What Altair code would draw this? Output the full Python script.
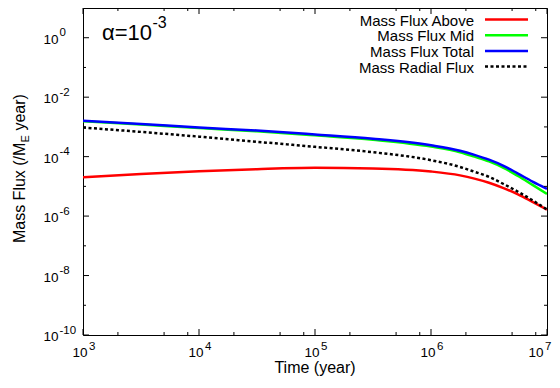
import altair as alt
import pandas as pd

# ---- data ----
time = [1e3, 3.16e3, 1e4, 3.16e4, 1e5, 3.16e5, 1e6, 1.78e6, 2.37e6, 3.16e6, 4.22e6, 5.62e6, 7.5e6, 1e7]
flux_above = [2.04e-5, 2.63e-5, 3.24e-5, 3.8e-5, 4.2e-5, 4.0e-5, 3.16e-5, 2.34e-5, 1.82e-5, 1.32e-5, 8.7e-6, 5.4e-6, 3.0e-6, 1.66e-6]
flux_mid = [1.55e-3, 1.20e-3, 9.1e-4, 7.1e-4, 5.2e-4, 3.7e-4, 2.19e-4, 1.41e-4, 1.0e-4, 6.9e-5, 4.2e-5, 2.24e-5, 1.12e-5, 5.6e-6]
flux_total = [1.62e-3, 1.26e-3, 9.5e-4, 7.6e-4, 5.6e-4, 4.0e-4, 2.4e-4, 1.58e-4, 1.15e-4, 7.9e-5, 4.9e-5, 2.69e-5, 1.45e-5, 8.3e-6]
flux_radial = [9.5e-4, 6.8e-4, 4.7e-4, 3.16e-4, 2.14e-4, 1.41e-4, 7.6e-5, 4.5e-5, 3.1e-5, 2.09e-5, 1.2e-5, 6.6e-6, 3.4e-6, 1.66e-6]

series_names = ["Mass Flux Above", "Mass Flux Mid", "Mass Flux Total", "Mass Radial Flux"]
series_values = [flux_above, flux_mid, flux_total, flux_radial]
series_colors = ["#ff0000", "#00ff00", "#0000ff", "#000000"]

x_major = [1e3, 1e4, 1e5, 1e6, 1e7]
x_major_exp = ["3", "4", "5", "6", "7"]
x_minor = [m * d for d in [1e3, 1e4, 1e5, 1e6] for m in (2, 5, 8)]
y_major = [1e0, 1e-2, 1e-4, 1e-6, 1e-8, 1e-10]
y_major_exp = ["0", "-2", "-4", "-6", "-8", "-10"]
y_minor = [1e1, 1e-1, 1e-3, 1e-5, 1e-7, 1e-9]

x_title = "Time (year)"
y_title_parts = ["Mass Flux (/M", "E", "year)"]
annot_base, annot_exp = "\u03b1=10", "-3"

W, H = 464, 327
FONT = "Liberation Sans"

xs = alt.Scale(type="log", domain=[1e3, 1e7], nice=False)
ys = alt.Scale(type="log", domain=[1e-10, 1e1], nice=False)

layers = []

# ---- curves ----
for name, vals, col in zip(series_names, series_values, series_colors):
    df = pd.DataFrame({"t": time, "v": vals, "s": name})
    kw = dict(color=col, strokeWidth=2.5, interpolate="monotone", clip=True)
    if name == "Mass Radial Flux":
        kw["strokeDash"] = [3, 2.5]
    layers.append(
        alt.Chart(df).mark_line(**kw).encode(
            x=alt.X("t:Q", scale=xs, axis=None),
            y=alt.Y("v:Q", scale=ys, axis=None),
        )
    )

# ---- inward ticks (all four sides) ----
def xticks(vals, length):
    df = pd.DataFrame({"t": vals})
    base = alt.Chart(df).mark_rule(color="black", strokeWidth=1)
    xe = alt.X("t:Q", scale=xs, axis=None)
    return [
        base.encode(x=xe, y=alt.value(H), y2=alt.value(H - length)),
        base.encode(x=xe, y=alt.value(0), y2=alt.value(length)),
    ]

def yticks(vals, length):
    df = pd.DataFrame({"v": vals})
    base = alt.Chart(df).mark_rule(color="black", strokeWidth=1)
    ye = alt.Y("v:Q", scale=ys, axis=None)
    return [
        base.encode(y=ye, x=alt.value(0), x2=alt.value(length)),
        base.encode(y=ye, x=alt.value(W), x2=alt.value(W - length)),
    ]

layers += xticks(x_major, 6) + xticks(x_minor, 3)
layers += yticks(y_major, 6) + yticks(y_minor, 3)

# ---- tick labels ----
dfx = pd.DataFrame({"t": x_major[:-1], "e": x_major_exp[:-1]})
dfx_last = pd.DataFrame({"t": x_major[-1:], "e": x_major_exp[-1:]})
for d, off in ((dfx, 4.5), (dfx_last, -3.4)):
    xe = alt.X("t:Q", scale=xs, axis=None)
    layers.append(
        alt.Chart(d).mark_text(text="10", align="right", baseline="alphabetic", dx=off,
                               fontSize=13.5, font=FONT, color="black")
        .encode(x=xe, y=alt.value(H + 21.5))
    )
    layers.append(
        alt.Chart(d).mark_text(align="left", baseline="alphabetic", dx=off + 1.5,
                               fontSize=11.5, font=FONT, color="black")
        .encode(x=xe, y=alt.value(H + 14.5), text="e:N")
    )

dfy = pd.DataFrame({"v": y_major, "e": y_major_exp})
ye = alt.Y("v:Q", scale=ys, axis=None)
layers.append(
    alt.Chart(dfy).mark_text(text="10", align="right", baseline="alphabetic", dy=6,
                             fontSize=13.5, font=FONT, color="black")
    .encode(y=ye, x=alt.value(-24.5))
)
layers.append(
    alt.Chart(dfy).mark_text(align="left", baseline="alphabetic", dy=-1.5,
                             fontSize=11.5, font=FONT, color="black")
    .encode(y=ye, x=alt.value(-23.5), text="e:N")
)

# ---- axis titles ----
one = pd.DataFrame({"k": [0]})
layers.append(
    alt.Chart(one).mark_text(text=x_title, align="center", baseline="alphabetic",
                             fontSize=16, font=FONT, color="black")
    .encode(x=alt.value(W / 2), y=alt.value(H + 38))
)
yt_x, yt_y = -58, 134.6
layers.append(
    alt.Chart(one).mark_text(text=y_title_parts[0], angle=270, align="right", baseline="alphabetic",
                             fontSize=16, font=FONT, color="black")
    .encode(x=alt.value(yt_x), y=alt.value(yt_y))
)
layers.append(
    alt.Chart(one).mark_text(text=y_title_parts[1], angle=270, align="left", baseline="alphabetic",
                             dy=4, fontSize=11, font=FONT, color="black")
    .encode(x=alt.value(yt_x), y=alt.value(yt_y))
)
layers.append(
    alt.Chart(one).mark_text(text=y_title_parts[2], angle=270, align="left", baseline="alphabetic",
                             dx=12, fontSize=16, font=FONT, color="black")
    .encode(x=alt.value(yt_x), y=alt.value(yt_y))
)

# ---- annotation alpha=10^-3 ----
layers.append(
    alt.Chart(one).mark_text(text=annot_base, align="right", baseline="alphabetic",
                             fontSize=22, font=FONT, color="black")
    .encode(x=alt.value(69), y=alt.value(32))
)
layers.append(
    alt.Chart(one).mark_text(text=annot_exp, align="left", baseline="alphabetic",
                             fontSize=16, font=FONT, color="black")
    .encode(x=alt.value(69.5), y=alt.value(20))
)

# ---- legend (gnuplot style: label then sample) ----
for i, (name, col) in enumerate(zip(series_names, series_colors)):
    ry = 11.5 + 15.7 * i
    d = pd.DataFrame({"label": [name]})
    layers.append(
        alt.Chart(d).mark_text(align="right", baseline="middle", dy=1,
                               fontSize=15, font=FONT, color="black")
        .encode(text="label:N", x=alt.value(391), y=alt.value(ry))
    )
    kw = dict(color=col, strokeWidth=2.5)
    if name == "Mass Radial Flux":
        kw["strokeDash"] = [3, 2.5]
    layers.append(
        alt.Chart(d).mark_rule(**kw)
        .encode(x=alt.value(402), x2=alt.value(445), y=alt.value(ry))
    )

chart = (
    alt.layer(*layers)
    .properties(
        width=W,
        height=H,
        autosize=alt.AutoSizeParams(type="none"),
        padding={"left": 75, "top": 0, "right": 5, "bottom": 41},
    )
    .configure_view(stroke="black", strokeWidth=1)
)

chart.save("out.html", embed_options={"renderer": "svg", "actions": False})
